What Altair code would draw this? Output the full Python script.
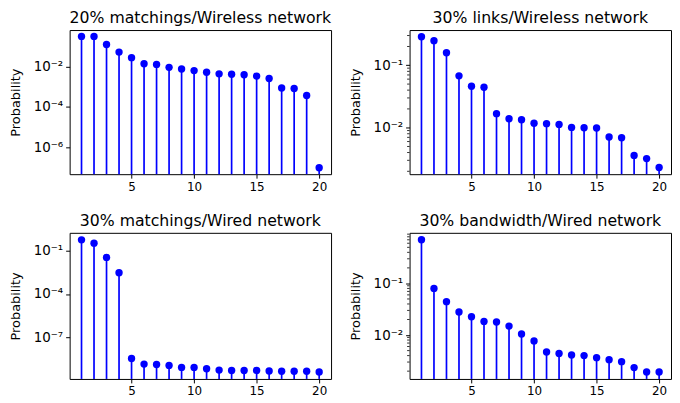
import altair as alt
import pandas as pd

k = list(range(1, 21))

titles = [
    "20% matchings/Wireless network",
    "30% links/Wireless network",
    "30% matchings/Wired network",
    "30% bandwidth/Wired network",
]

p1 = [0.32, 0.32, 0.126, 0.053, 0.028, 0.014, 0.013, 0.0093, 0.0077, 0.0064,
      0.0053, 0.0044, 0.0042, 0.0040, 0.0034, 0.0026, 0.00087, 0.00083, 0.00037, 9.5e-8]
p2 = [0.287, 0.248, 0.159, 0.0678, 0.0461, 0.0445, 0.0168, 0.0139, 0.0134, 0.0118,
      0.0116, 0.0113, 0.0101, 0.0100, 0.0099, 0.0071, 0.0069, 0.0036, 0.0032, 0.0023]
p3 = [0.58, 0.34, 0.035, 0.003, 3.3e-9, 1.35e-9, 1.27e-9, 1.1e-9, 8e-10, 8e-10,
      6.4e-10, 5.2e-10, 4.9e-10, 4.9e-10, 4.9e-10, 4.5e-10, 4.3e-10, 4.3e-10, 4.3e-10, 3.8e-10]
p4 = [0.70, 0.080, 0.0443, 0.0279, 0.0226, 0.0184, 0.0179, 0.0149, 0.0105, 0.0077,
      0.0047, 0.0044, 0.0041, 0.0040, 0.00365, 0.00334, 0.00305, 0.00234, 0.00192, 0.00192]

# log10 axis limits
ylims = [[-7.34, -0.18], [-2.745, -0.435], [-9.9, 0.25], [-2.85, -0.02]]
yticks = [[1e-2, 1e-4, 1e-6], [1e-1, 1e-2], [1e-1, 1e-4, 1e-7], [1e-1, 1e-2]]
minor2 = [0.002, 0.003, 0.004, 0.005, 0.006, 0.007, 0.008, 0.009,
          0.02, 0.03, 0.04, 0.05, 0.06, 0.07, 0.08, 0.09, 0.2, 0.3]
minor4 = [0.002, 0.003, 0.004, 0.005, 0.006, 0.007, 0.008, 0.009,
          0.02, 0.03, 0.04, 0.05, 0.06, 0.07, 0.08, 0.09,
          0.2, 0.3, 0.4, 0.5, 0.6, 0.7, 0.8, 0.9]
xticks = [5, 10, 15, 20]

W = 263
HS = [145, 147]
FONT = "DejaVu Sans"
BLUE = "#0000ff"

E = "(-round(log(datum.value)/LN10))"
SUP = ("'10⁻' + ({e}==1?'¹':{e}==2?'²':{e}==4?'⁴':{e}==6?'⁶':{e}==7?'⁷':'')").format(e=E)


def panel(title, vals, ylim, ytk, H, minors=None):
    df = pd.DataFrame({"k": k, "p": vals})
    xs = alt.X("k:Q",
               scale=alt.Scale(domain=[0.05, 20.95], nice=False, zero=False),
               axis=alt.Axis(values=xticks, title=None, format="d"))
    ys = alt.Y("p:Q",
               scale=alt.Scale(type="log", domain=[10 ** ylim[0], 10 ** ylim[1]], nice=False),
               axis=alt.Axis(values=ytk, labelExpr=SUP, title="Probability",
                             labelFontSize=13.5,
                             minExtent=41, maxExtent=41, titlePadding=6))
    base = alt.Chart(df)
    stems = base.mark_rule(color=BLUE, strokeWidth=1.7).encode(x=xs, y=ys, y2=alt.value(H))
    dots = base.mark_circle(color=BLUE, opacity=1, size=55).encode(x="k:Q", y="p:Q")
    layers = [stems, dots]
    if minors:
        mdf = pd.DataFrame({"p": minors})
        layers.append(
            alt.Chart(mdf).mark_rule(color="black", strokeWidth=0.8).encode(
                y="p:Q", x=alt.value(0), x2=alt.value(-2.5)))
    return alt.layer(*layers).properties(
        width=W, height=H,
        title=alt.TitleParams(title, font=FONT, fontSize=15.8, fontWeight="normal",
                              color="black", offset=3))


c1 = panel(titles[0], p1, ylims[0], yticks[0], HS[0])
c2 = panel(titles[1], p2, ylims[1], yticks[1], HS[0], minor2)
c3 = panel(titles[2], p3, ylims[2], yticks[2], HS[1])
c4 = panel(titles[3], p4, ylims[3], yticks[3], HS[1], minor4)

chart = alt.vconcat(
    alt.hconcat(c1, c2, spacing=17),
    alt.hconcat(c3, c4, spacing=17),
    spacing=19,
).properties(
    padding={"left": 1, "top": 0, "right": 0, "bottom": 0}
).configure_view(
    stroke="black", strokeWidth=1
).configure_axis(
    domain=False, grid=False, tickColor="black", tickSize=4, tickWidth=1,
    labelColor="black", labelFont=FONT, labelFontSize=12, labelPadding=3,
    titleColor="black", titleFont=FONT, titleFontSize=13, titleFontWeight="normal",
    labelOverlap=False
)

chart.save("out.html", embed_options={"renderer": "svg", "actions": False})
